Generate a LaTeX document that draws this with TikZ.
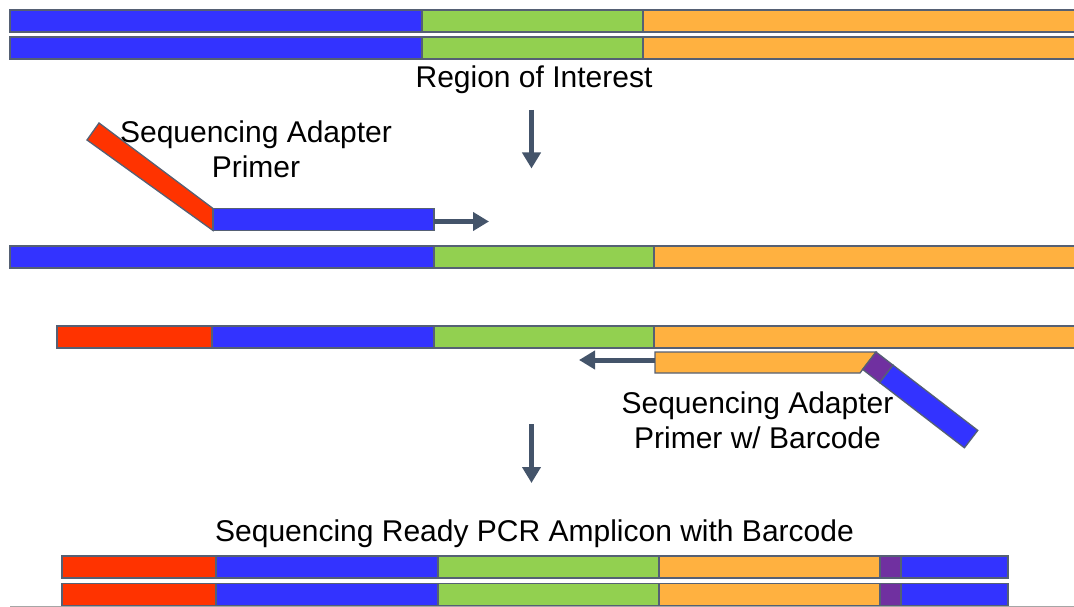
\documentclass[tikz,border=0pt]{standalone}
\usepackage{fontspec}
\setmainfont{Liberation Sans}
\usetikzlibrary{arrows.meta}
\definecolor{dnablue}{RGB}{51,51,255}
\definecolor{dnagreen}{RGB}{146,208,80}
\definecolor{dnaorange}{RGB}{255,177,64}
\definecolor{dnared}{RGB}{255,51,0}
\definecolor{dnapurple}{RGB}{112,48,160}
\definecolor{edgegray}{RGB}{85,96,116}
\definecolor{arrowslate}{RGB}{68,84,106}
\begin{document}
\begin{tikzpicture}[x=1pt,y=-1pt,
  seg/.style={draw=edgegray,line width=1.3pt},
  arr/.style={draw=arrowslate,line width=5pt,-{Triangle[length=16pt,width=18pt]}},
  lbl/.style={font=\fontsize{30}{35}\selectfont,anchor=base,inner sep=0pt}]
\useasboundingbox (0,0) rectangle (1074,607);
\begin{scope}
\clip (0,0) rectangle (1074,607);
% double-stranded template
\foreach \ya/\yb in {10/32,37/59}{
  \filldraw[seg,fill=dnablue]   (10,\ya)  rectangle (422,\yb);
  \filldraw[seg,fill=dnagreen]  (422,\ya) rectangle (643,\yb);
  \filldraw[seg,fill=dnaorange] (643,\ya) rectangle (1090,\yb);
}
% first primer: adapter tail and binding part
\filldraw[seg,fill=dnared] (99,123) -- (213,208.5) -- (213,230.5) -- (87,140) -- cycle;
\filldraw[seg,fill=dnablue] (213,208.5) rectangle (434,230.5);
\coordinate (p1end) at (434,221.5);
\coordinate (p1tip) at (489,221.5);
% template strand for first primer
\filldraw[seg,fill=dnablue]   (10,246)  rectangle (434,268);
\filldraw[seg,fill=dnagreen]  (434,246) rectangle (654,268);
\filldraw[seg,fill=dnaorange] (654,246) rectangle (1090,268);
% extended strand with adapter
\filldraw[seg,fill=dnared]    (57,326)  rectangle (212,348);
\filldraw[seg,fill=dnablue]   (212,326) rectangle (434,348);
\filldraw[seg,fill=dnagreen]  (434,326) rectangle (654,348);
\filldraw[seg,fill=dnaorange] (654,326) rectangle (1090,348);
% second primer with barcode
\filldraw[seg,fill=dnaorange] (655,352) -- (876,352) -- (860,373) -- (655,373) -- cycle;
\filldraw[seg,fill=dnapurple] (876,352) -- (893.1,365.2) -- (879.7,382.6) -- (862.6,369.4) -- cycle;
\filldraw[seg,fill=dnablue] (893.1,365.2) -- (977.8,430.4) -- (964.4,447.8) -- (879.7,382.6) -- cycle;
\coordinate (p2end) at (655,360);
\coordinate (p2tip) at (579,360);
% edge of the next strand below
\draw[draw=gray!70,line width=1pt] (10,606.5) -- (1080,606.5);
% final amplicon
\foreach \ya/\yb in {556/578,583.5/605.5}{
  \filldraw[seg,fill=dnared]    (62,\ya)  rectangle (216,\yb);
  \filldraw[seg,fill=dnablue]   (216,\ya) rectangle (438,\yb);
  \filldraw[seg,fill=dnagreen]  (438,\ya) rectangle (659,\yb);
  \filldraw[seg,fill=dnaorange] (659,\ya) rectangle (880,\yb);
  \filldraw[seg,fill=dnapurple] (880,\ya) rectangle (901,\yb);
  \filldraw[seg,fill=dnablue]   (901,\ya) rectangle (1008,\yb);
}
\end{scope}
% step arrows
\coordinate (s1a) at (531.5,110);
\coordinate (s1b) at (531.5,168.5);
\coordinate (s2a) at (531.5,424);
\coordinate (s2b) at (531.5,483);
\draw[arr] (s1a) -- (s1b);
\draw[arr] (s2a) -- (s2b);
\draw[arr] (p1end) -- (p1tip);
\draw[arr] (p2end) -- (p2tip);
% labels
\node[lbl] (roi) at (534,88) {Region of Interest};
\node[lbl] (fwdA) at (256,142.7) {Sequencing Adapter};
\node[lbl] (fwdB) at (256,177.3) {Primer};
\node[lbl] (revA) at (757.5,413.3) {Sequencing Adapter};
\node[lbl] (revB) at (757.5,448.3) {Primer w/ Barcode};
\node[lbl] (amp) at (534.5,541) {Sequencing Ready PCR Amplicon with Barcode};
\end{tikzpicture}
\end{document}
